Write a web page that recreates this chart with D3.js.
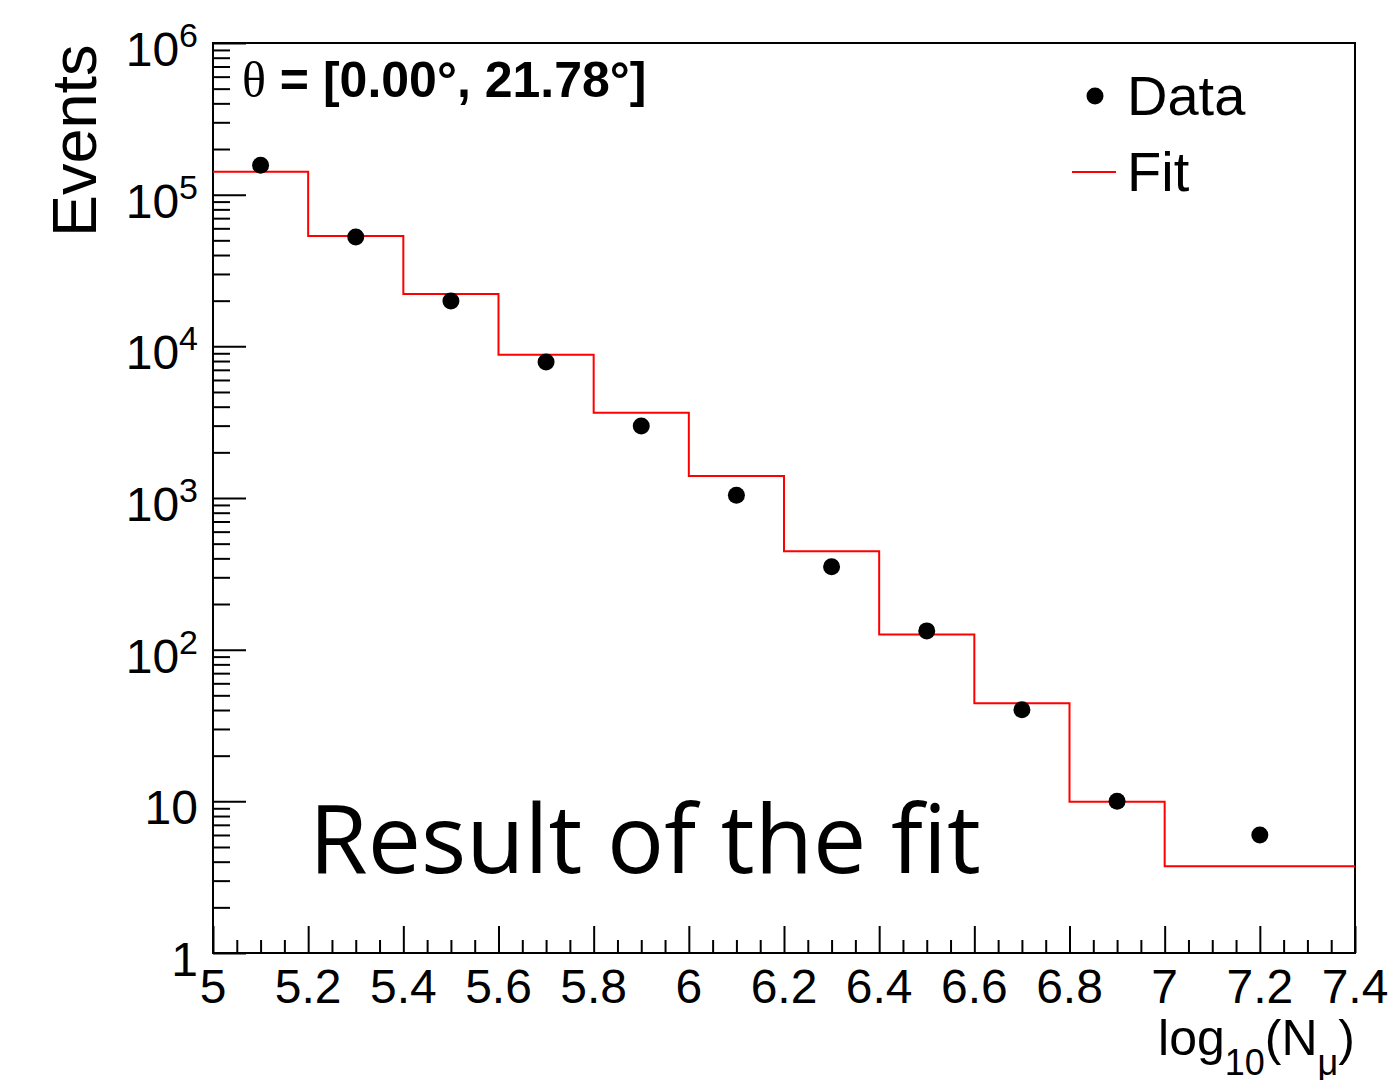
<!DOCTYPE html>
<html>
<head>
<meta charset="utf-8">
<script src="https://cdn.jsdelivr.net/npm/d3@7"></script>
<style>
  body { margin: 0; background: #fff; }
</style>
</head>
<body>
<script>
var W = 1395, H = 1080;
var mLeft = 213, mRight = 1355, mTop = 43, mBottom = 953;

// histogram data
var fitEdges = [5.0, 5.2, 5.4, 5.6, 5.8, 6.0, 6.2, 6.4, 6.6, 6.8, 7.0, 7.4];
var fitValues = [141700, 53350, 22130, 8810, 3650, 1396, 445, 126, 44.3, 9.95, 3.73];
var dataX = [5.1, 5.3, 5.5, 5.7, 5.9, 6.1, 6.3, 6.5, 6.7, 6.9, 7.2];
var dataY = [156300, 52600, 19900, 7880, 2985, 1042, 352, 133, 40.2, 10, 6.0];
var xTicks = [5, 5.2, 5.4, 5.6, 5.8, 6, 6.2, 6.4, 6.6, 6.8, 7, 7.2, 7.4];
var xTickLabels = ["5", "5.2", "5.4", "5.6", "5.8", "6", "6.2", "6.4", "6.6", "6.8", "7", "7.2", "7.4"];
var yTicks = [1, 10, 100, 1e3, 1e4, 1e5, 1e6];
var yExp = [null, null, 2, 3, 4, 5, 6];

var x = d3.scaleLinear().domain([5, 7.4]).range([mLeft, mRight]);
var y = d3.scaleLog().domain([1, 1e6]).range([mBottom, mTop]);

var svg = d3.select("body").append("svg")
    .attr("width", W)
    .attr("height", H)
    .attr("font-family", "'Liberation Sans', Arial, sans-serif");

// minor ticks
var xMinor = d3.range(5, 7.4001, 0.05).filter(function(v) {
  return Math.abs(v * 5 - Math.round(v * 5)) > 1e-6;
});
var yMinor = [];
for (var e = 0; e < 6; e++) {
  for (var k = 2; k <= 9; k++) yMinor.push(k * Math.pow(10, e));
}

function cleanAxis(g) {
  g.select(".domain").remove();
  g.selectAll(".tick line").attr("stroke", "#000").attr("stroke-width", 2);
}

svg.append("g")
    .attr("transform", "translate(0," + mBottom + ")")
    .call(d3.axisBottom(x).tickValues(xTicks).tickSize(-27).tickFormat(""))
    .call(cleanAxis);
svg.append("g")
    .attr("transform", "translate(0," + mBottom + ")")
    .call(d3.axisBottom(x).tickValues(xMinor).tickSize(-13).tickFormat(""))
    .call(cleanAxis);
svg.append("g")
    .attr("transform", "translate(" + mLeft + ",0)")
    .call(d3.axisLeft(y).tickValues(yTicks).tickSize(-33).tickFormat(""))
    .call(cleanAxis);
svg.append("g")
    .attr("transform", "translate(" + mLeft + ",0)")
    .call(d3.axisLeft(y).tickValues(yMinor).tickSize(-17).tickFormat(""))
    .call(cleanAxis);

// frame
svg.append("rect")
    .attr("x", mLeft).attr("y", mTop)
    .attr("width", mRight - mLeft).attr("height", mBottom - mTop)
    .attr("fill", "none")
    .attr("stroke", "#000")
    .attr("stroke-width", 2);

// x tick labels
svg.selectAll(".xlab").data(xTicks).enter().append("text")
    .attr("x", function(d) { return x(d); })
    .attr("y", 1003)
    .attr("text-anchor", "middle")
    .attr("font-size", 48)
    .text(function(d, i) { return xTickLabels[i]; });

// y tick labels
yTicks.forEach(function(v, i) {
  var t = svg.append("text")
      .attr("x", 198)
      .attr("y", y(v) + 23)
      .attr("text-anchor", "end")
      .attr("font-size", 48);
  if (yExp[i] === null) {
    t.text(v);
  } else {
    t.append("tspan").text("10");
    t.append("tspan").attr("font-size", 34).attr("dy", -19).text(yExp[i]);
  }
});

// fit histogram
var fitLine = d3.line().curve(d3.curveStepAfter)
    .x(function(d) { return x(d[0]); })
    .y(function(d) { return y(d[1]); });
var fitPts = fitEdges.map(function(e, i) {
  return [e, fitValues[Math.min(i, fitValues.length - 1)]];
});
svg.append("path")
    .attr("d", fitLine(fitPts))
    .attr("fill", "none")
    .attr("stroke", "#ff0000")
    .attr("stroke-width", 2);

// data points
svg.selectAll(".pt").data(dataX).enter().append("circle")
    .attr("cx", function(d) { return x(d); })
    .attr("cy", function(d, i) { return y(dataY[i]); })
    .attr("r", 8.5)
    .attr("fill", "#000");

// axis titles
svg.append("text")
    .attr("transform", "translate(96,237) rotate(-90)")
    .attr("font-size", 63)
    .text("Events");

var xt = svg.append("text")
    .attr("x", mRight)
    .attr("y", 1055)
    .attr("text-anchor", "end")
    .attr("font-size", 50);
xt.append("tspan").text("log");
xt.append("tspan").attr("font-size", 36).attr("dy", 20).text("10");
xt.append("tspan").attr("dy", -20).text("(N");
xt.append("tspan").attr("font-size", 36).attr("dy", 20).text("\u03bc");
xt.append("tspan").attr("dy", -20).text(")");

// theta range label
var th = svg.append("text")
    .attr("x", 242)
    .attr("y", 97)
    .attr("font-size", 50)
    .attr("font-weight", "bold");
th.append("tspan")
    .attr("font-family", "'Liberation Serif', serif")
    .attr("font-weight", "normal")
    .text("\u03b8");
th.append("tspan").text(" = [0.00\u00b0, 21.78\u00b0]");

// legend
svg.append("circle").attr("cx", 1095).attr("cy", 96).attr("r", 8.5).attr("fill", "#000");
svg.append("text").attr("x", 1127).attr("y", 115).attr("font-size", 56).text("Data");
svg.append("line")
    .attr("x1", 1072).attr("x2", 1116)
    .attr("y1", 172).attr("y2", 172)
    .attr("stroke", "#ff0000").attr("stroke-width", 2);
svg.append("text").attr("x", 1127).attr("y", 191).attr("font-size", 56).text("Fit");

// annotation
svg.append("text")
    .attr("x", 309)
    .attr("y", 873)
    .attr("font-family", "'Open Sans', 'Noto Sans', sans-serif")
    .attr("font-size", 95)
    .text("Result of the fit");
</script>
</body>
</html>
